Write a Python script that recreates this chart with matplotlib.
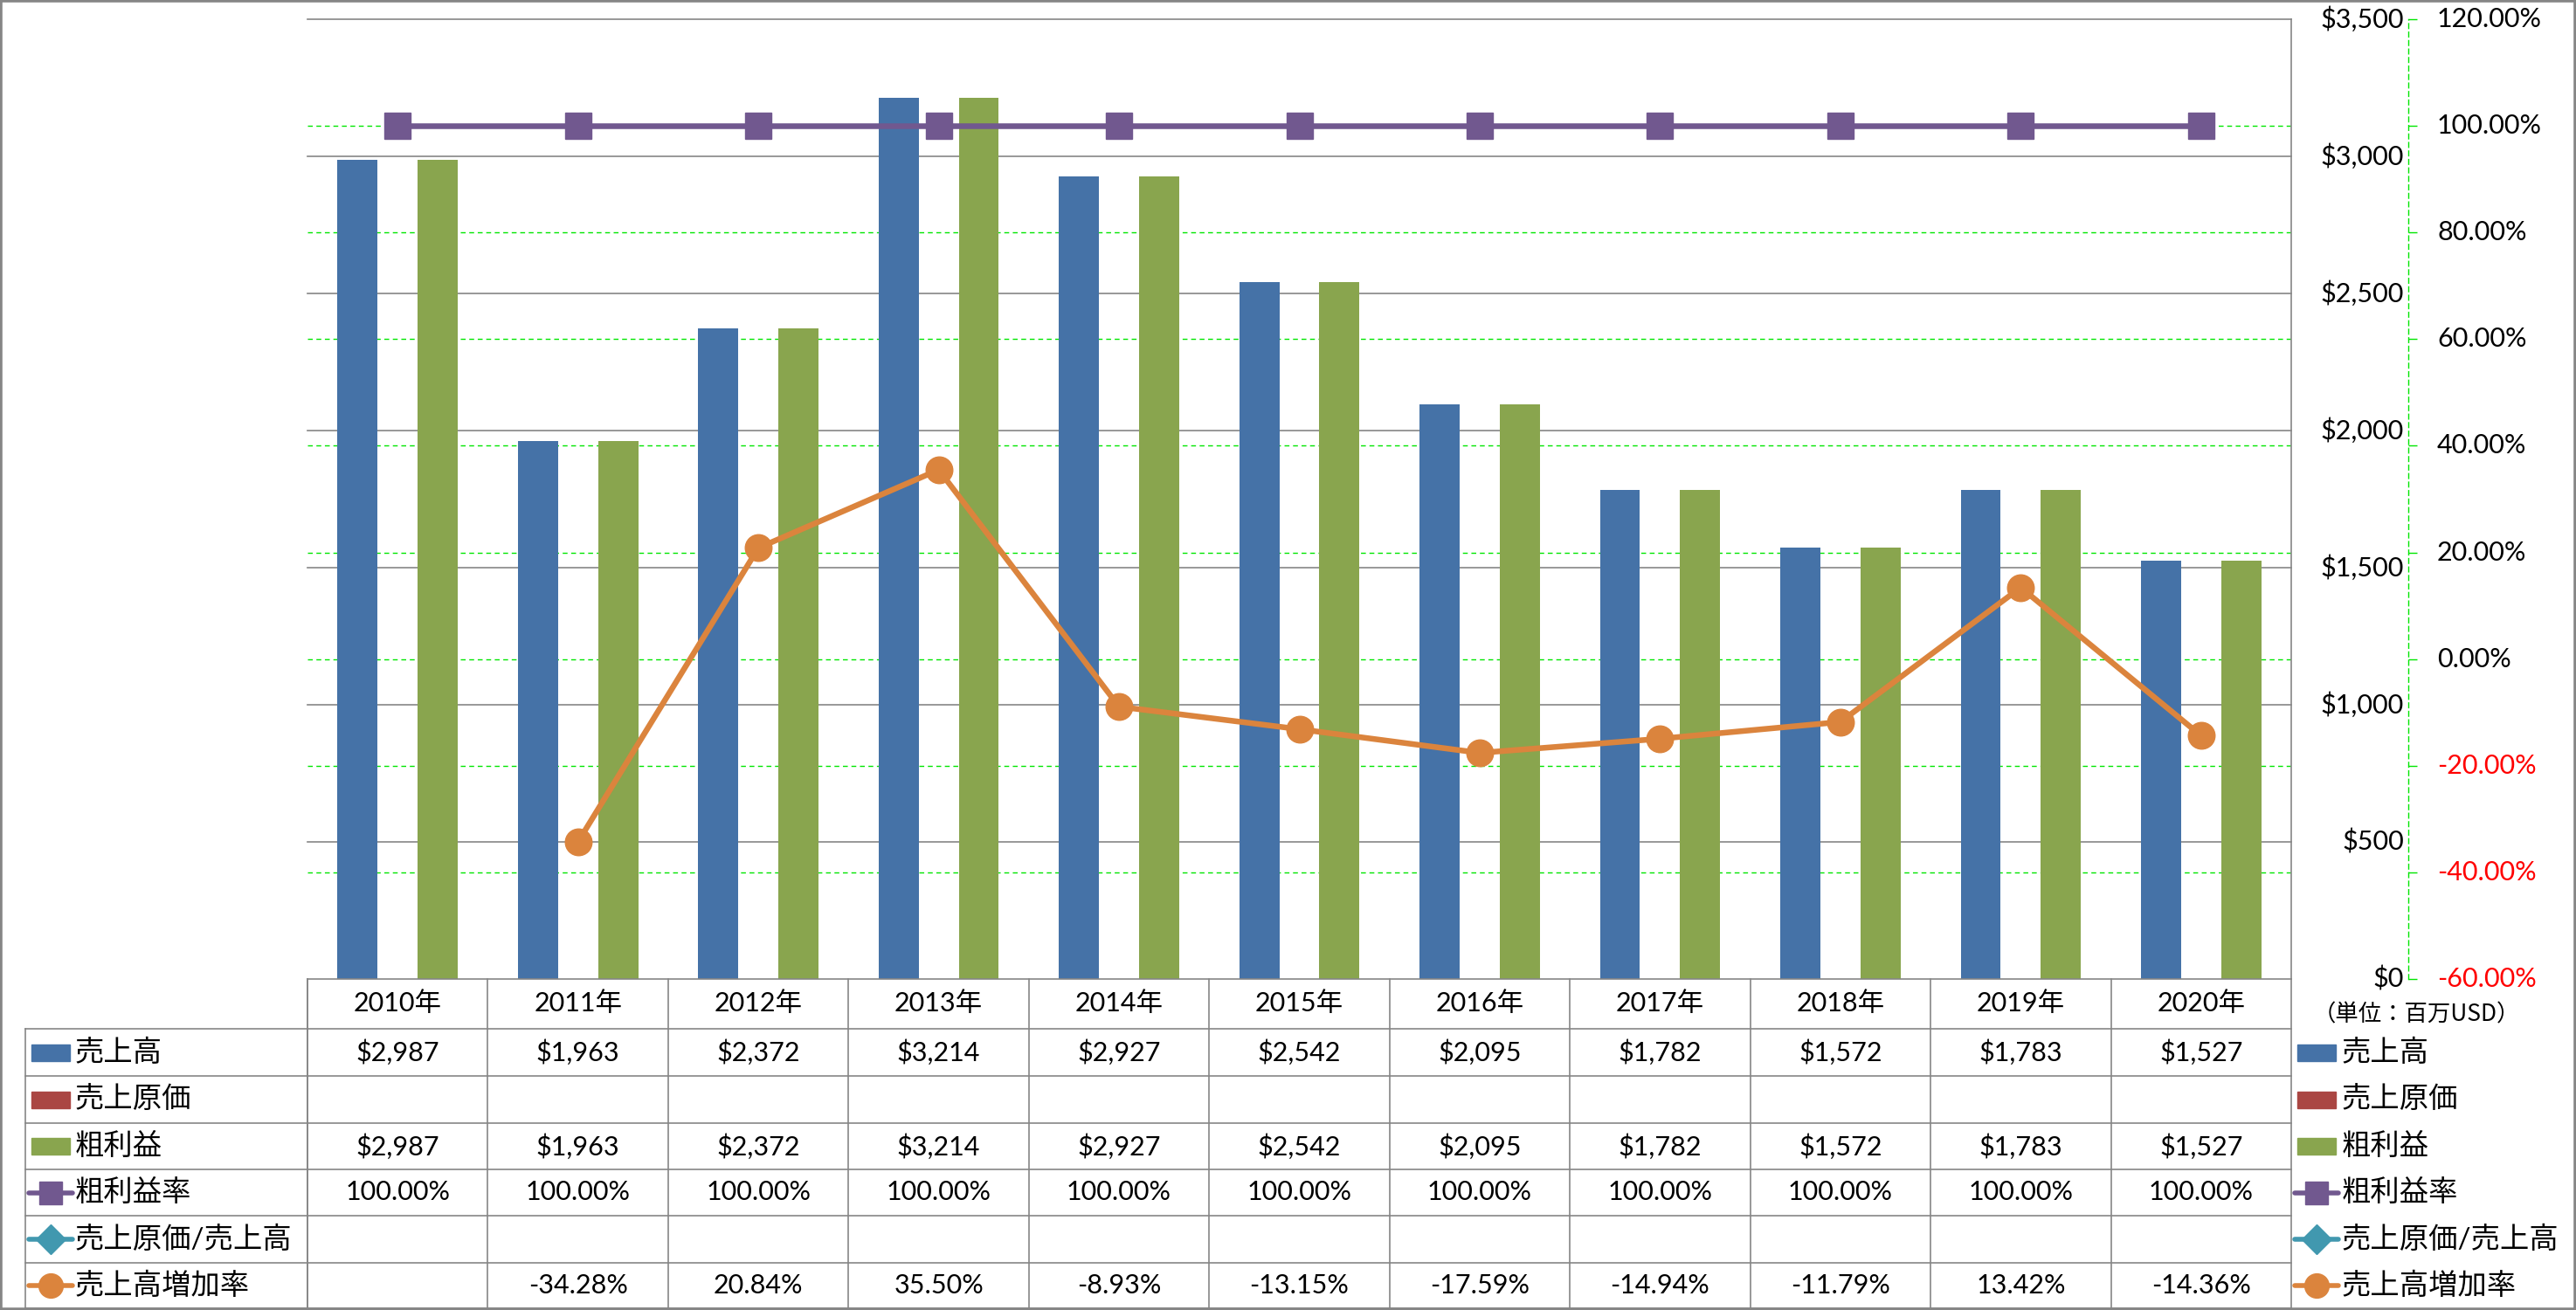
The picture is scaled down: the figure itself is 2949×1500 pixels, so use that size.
import numpy as np
import matplotlib
matplotlib.use('Agg')
import matplotlib.pyplot as plt
from matplotlib.transforms import blended_transform_factory
from matplotlib.lines import Line2D
from matplotlib.patches import Rectangle

plt.rcParams['font.family'] = ['Lato', 'Noto Sans CJK JP', 'DejaVu Sans']

years = ['2010年', '2011年', '2012年', '2013年', '2014年', '2015年',
         '2016年', '2017年', '2018年', '2019年', '2020年']
sales = [2987, 1963, 2372, 3214, 2927, 2542, 2095, 1782, 1572, 1783, 1527]
cost = [None] * 11
gross = [2987, 1963, 2372, 3214, 2927, 2542, 2095, 1782, 1572, 1783, 1527]
gross_rate = [100.0] * 11
cost_ratio = [None] * 11
growth = [None, -34.28, 20.84, 35.50, -8.93, -13.15, -17.59, -14.94, -11.79, 13.42, -14.36]

names = ['売上高', '売上原価', '粗利益', '粗利益率', '売上原価/売上高', '売上高増加率']
colors = ['#4572A7', '#AA4643', '#89A54E', '#71588F', '#4198AF', '#DB843D']
kinds = ['bar', 'bar', 'bar', 'line_s', 'line_d', 'line_o']

W, H = 2949, 1500
def fx(px):
    return px / W
def fy(px):
    return 1 - px / H

grey = '#868686'
green = '#00E600'
fs = 22

fig = plt.figure(figsize=(W / 100, H / 100), dpi=100)
ax = fig.add_axes([fx(352), fy(1121), fx(2623) - fx(352), fy(22) - fy(1121)])
ax2 = ax.twinx()

x = np.arange(len(years))
w = 1 / 4.5
ax.bar(x - w, sales, w, color=colors[0], zorder=3)
ax.bar(x, [0 if v is None else v for v in cost], w, color=colors[1], zorder=3)
ax.bar(x + w, gross, w, color=colors[2], zorder=3)

ax.set_xlim(-0.5, len(years) - 0.5)
ax.set_ylim(0, 3500)
ax.set_xticks([])
ax.set_yticks([])
for s in ['top', 'left']:
    ax.spines[s].set_visible(False)
for s in ['right', 'bottom']:
    ax.spines[s].set_color(grey)
    ax.spines[s].set_linewidth(1.2)
    ax.spines[s].set_zorder(4)

# primary gridlines + labels
ytr = blended_transform_factory(ax.transAxes, ax.transData)
for v in range(0, 3501, 500):
    if v > 0:
        ax.plot([0, 1], [v, v], transform=ytr, color=grey, lw=1.2, zorder=2,
                clip_on=False)
    ax.text(1 + (2752 - 2623) / (2623 - 352), v, f'${v:,}', transform=ytr,
            ha='right', va='center', fontsize=fs)

# secondary axis
ax2.set_ylim(-60, 120)
pct_ticks = list(range(-60, 121, 20))
gtr = blended_transform_factory(ax.transAxes, ax2.transData)
for p in pct_ticks[1:-1]:
    ax.plot([0, 1], [p, p], transform=gtr, color=green, lw=1.0,
            ls=(0, (4, 3)), zorder=1)
ax2.set_yticks(pct_ticks)
ax2.tick_params(axis='y', length=7, width=1, color=green, labelright=False)
ltr = blended_transform_factory(fig.transFigure, ax2.transData)
for p in pct_ticks:
    ax2.text(fx(2790), p, f'{p:.2f}%', transform=ltr, ha='left', va='center',
             fontsize=fs, color='red' if p < 0 else 'black', clip_on=False)
for s in ['top', 'left', 'bottom']:
    ax2.spines[s].set_visible(False)
ax2.spines['right'].set_position(('outward', 96.5))
ax2.spines['right'].set_color(green)
ax2.spines['right'].set_linestyle((0, (4, 3)))
ax2.spines['right'].set_linewidth(1.0)

ax2.plot(x, gross_rate, color=colors[3], lw=4.7, marker='s', ms=21,
         mfc=colors[3], mec=colors[3], zorder=4)
gx = [xi for xi, g in zip(x, growth) if g is not None]
gv = [g for g in growth if g is not None]
ax2.plot(gx, gv, color=colors[5], lw=4.7, marker='o', ms=22,
         mfc=colors[5], mec=colors[5], zorder=5)

# data table
row_edges = [1121, 1178, 1232, 1286, 1339, 1392, 1446, 1498]
xtr = blended_transform_factory(ax.transData, fig.transFigure)
lkw = dict(color=grey, lw=1.2, transform=fig.transFigure, clip_on=False)
for yb in row_edges[1:]:
    fig.add_artist(Line2D([fx(29), fx(2623)], [fy(yb), fy(yb)], **lkw))
fig.add_artist(Line2D([fx(29), fx(29)], [fy(1178), fy(1498)], **lkw))
fig.add_artist(Line2D([fx(352), fx(352)], [fy(1121), fy(1498)], **lkw))
for k in range(len(years) + 1):
    fig.add_artist(Line2D([k - 0.5, k - 0.5], [fy(1121), fy(1498)], color=grey,
                          lw=1.2, transform=xtr, clip_on=False))

def ycenter(r):
    return fy((row_edges[r] + row_edges[r + 1]) / 2)

for i, yr in enumerate(years):
    fig.text(x[i], ycenter(0), yr, transform=xtr, ha='center', va='center', fontsize=fs)

def money(v):
    return '' if v is None else f'${v:,}'
def pct(v):
    return '' if v is None else f'{v:.2f}%'

rows = [[money(v) for v in sales], [money(v) for v in cost], [money(v) for v in gross],
        [pct(v) for v in gross_rate], [pct(v) for v in cost_ratio], [pct(v) for v in growth]]
for r, vals in enumerate(rows):
    for i, s in enumerate(vals):
        if s:
            fig.text(x[i], ycenter(r + 1), s, transform=xtr, ha='center',
                     va='center', fontsize=fs)

def legend_key(x0, yc, kind, color):
    if kind == 'bar':
        fig.add_artist(Rectangle((fx(x0), yc - 9.5 / H), 44 / W, 19 / H,
                                 transform=fig.transFigure, color=color))
    else:
        m = {'line_s': 's', 'line_d': 'D', 'line_o': 'o'}[kind]
        fig.add_artist(Line2D([fx(x0 - 3), fx(x0 + 47)], [yc, yc], color=color, lw=4,
                              solid_capstyle='round', transform=fig.transFigure))
        fig.add_artist(Line2D([fx(x0 + 22)], [yc], color=color, marker=m,
                              ms={'s': 19, 'D': 17, 'o': 20}[m],
                              transform=fig.transFigure))

for r, (nm, kd, c) in enumerate(zip(names, kinds, colors)):
    yc = ycenter(r + 1)
    legend_key(36, yc, kd, c)
    fig.text(fx(86), yc, nm, ha='left', va='center', fontsize=24)
    legend_key(2630, yc, kd, c)
    fig.text(fx(2681), yc, nm, ha='left', va='center', fontsize=24)

fig.text(fx(2648), fy(1162), '（単位：百万USD）', ha='left', va='center',
         fontsize=19, family=['Noto Sans CJK JP'])

fig.add_artist(Rectangle((0, 0), 1, 1, transform=fig.transFigure, fill=False,
                         edgecolor=grey, lw=4))

fig.savefig('out.png', dpi=100)
